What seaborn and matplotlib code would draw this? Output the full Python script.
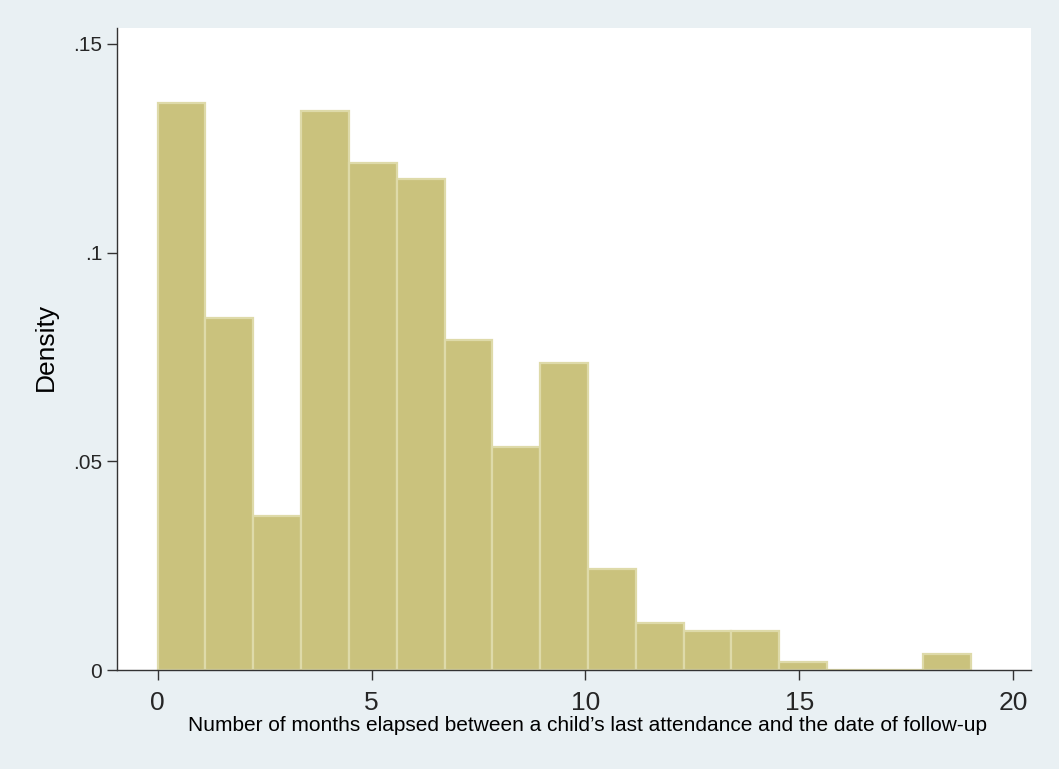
import numpy as np
import pandas as pd
import matplotlib
matplotlib.use("Agg")
import matplotlib.pyplot as plt
import seaborn as sns

# Histogram of months between last attendance and follow-up (17 bins over 0-19)
bin_edges = [float(v) for v in np.linspace(0, 19, 18)]
bin_density = [0.1358, 0.0844, 0.0370, 0.1339, 0.1214, 0.1176, 0.0791, 0.0534,
               0.0736, 0.0241, 0.0112, 0.0094, 0.0094, 0.0020, 0.0, 0.0, 0.0038]
x_ticks = [0, 5, 10, 15, 20]
x_tick_labels = ["0", "5", "10", "15", "20"]
y_ticks = [0, 0.05, 0.10, 0.15]
y_tick_labels = ["0", ".05", ".1", ".15"]
x_title = "Number of months elapsed between a child\u2019s last attendance and the date of follow-up"
y_title = "Density"

edges = np.asarray(bin_edges)
df = pd.DataFrame({
    "months": (edges[:-1] + edges[1:]) / 2,
    "density": bin_density,
})

sns.set_style("white")
plt.rcParams["font.family"] = ["Liberation Sans", "DejaVu Sans"]

bg = "#E9F0F3"
fig = plt.figure(figsize=(10.59, 7.69), dpi=100, facecolor=bg)
ax = fig.add_axes([117 / 1059, 1 - 670 / 769, (1031 - 117) / 1059, (670 - 28) / 769])
ax.set_facecolor("white")

sns.histplot(data=df, x="months", weights="density", bins=bin_edges, stat="count",
             color="#CAC27D", edgecolor="#DEDAA9", linewidth=1.6, alpha=1.0, ax=ax)

ax.set_xlim(-0.951, 20.414)
ax.set_ylim(0, 0.1538)

ax.set_xticks(x_ticks)
ax.set_xticklabels(x_tick_labels, fontsize=19)
ax.set_yticks(y_ticks)
ax.set_yticklabels(y_tick_labels, fontsize=15)

ax.tick_params(axis="x", direction="out", length=7, width=1, color="#333333", pad=8, bottom=True)
ax.tick_params(axis="y", direction="out", length=7, width=1, color="#333333", pad=3.6, left=True)

for side in ["top", "right"]:
    ax.spines[side].set_visible(False)
for side in ["left", "bottom"]:
    ax.spines[side].set_color("#333333")
    ax.spines[side].set_linewidth(1.0)

ax.set_xlabel(x_title, fontsize=15, color="black")
ax.xaxis.set_label_coords((588 - 117) / (1031 - 117), -(731 - 670) / (670 - 28))
ax.xaxis.label.set_va("baseline")
ax.set_ylabel(y_title, fontsize=19, color="black")
ax.yaxis.set_label_coords(-(117 - 46) / (1031 - 117), 0.503)
ax.yaxis.label.set_va("center")

fig.savefig("out.png", dpi=100, facecolor=bg)
